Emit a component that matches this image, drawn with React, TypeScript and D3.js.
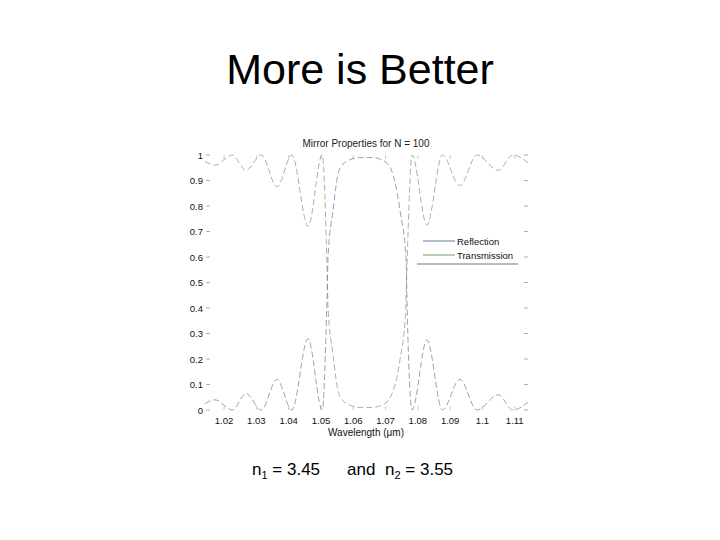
import React from "react";
import * as d3 from "d3";

const title = "More is Better";
const plotTitle = "Mirror Properties for N = 100";
const xLabel = "Wavelength (\u03bcm)";

const reflectionWl = [1.0141, 1.0172, 1.0225, 1.0268, 1.0315, 1.0364, 1.041, 1.046, 1.0504, 1.0519, 1.0522, 1.0537, 1.0556, 1.058, 1.062, 1.066, 1.069, 1.0715, 1.0745, 1.0764, 1.0766, 1.0782, 1.0828, 1.0876, 1.093, 1.0983, 1.1049, 1.1094, 1.1141];
const reflectionVals = [0.025, 0.04, 0.0, 0.065, 0.0, 0.12, 0.0, 0.28, 0.0, 0.45, 0.6, 0.78, 0.94, 0.975, 0.99, 0.99, 0.98, 0.95, 0.78, 0.58, 0.45, 0.0, 0.275, 0.0, 0.12, 0.0, 0.06, 0.0, 0.03];

const transmissionWl = [1.0141, 1.0172, 1.0225, 1.0268, 1.0315, 1.0364, 1.041, 1.046, 1.0504, 1.0519, 1.0522, 1.0537, 1.0556, 1.058, 1.062, 1.066, 1.069, 1.0715, 1.0745, 1.0762, 1.0766, 1.0782, 1.0828, 1.0876, 1.093, 1.0983, 1.1049, 1.1094, 1.1141];
const transmissionVals = [0.975, 0.96, 1.0, 0.94, 1.0, 0.875, 1.0, 0.72, 1.0, 0.55, 0.4, 0.22, 0.06, 0.025, 0.01, 0.01, 0.02, 0.05, 0.2, 0.38, 0.55, 1.0, 0.725, 1.0, 0.88, 1.0, 0.94, 1.0, 0.97];

const xTicks = [1.02, 1.03, 1.04, 1.05, 1.06, 1.07, 1.08, 1.09, 1.1, 1.11];
const xTickLabels = ["1.02", "1.03", "1.04", "1.05", "1.06", "1.07", "1.08", "1.09", "1.1", "1.11"];
const yTicks = [0, 0.1, 0.2, 0.3, 0.4, 0.5, 0.6, 0.7, 0.8, 0.9, 1];
const yTickLabels = ["0", "0.1", "0.2", "0.3", "0.4", "0.5", "0.6", "0.7", "0.8", "0.9", "1"];
const legendLabels = ["Reflection", "Transmission"];

const FONT = "'Liberation Sans', Arial, Helvetica, sans-serif";
const R_COLOR = "#6f76a6";
const T_COLOR = "#6fa06f";

export default function App() {
  const x = d3.scaleLinear().domain([1.0141, 1.1141]).range([205, 528]);
  const y = d3.scaleLinear().domain([0, 1]).range([410, 155]);
  const line = d3
    .line<[number, number]>()
    .x((d) => x(d[0]))
    .y((d) => y(d[1]))
    .curve(d3.curveMonotoneX);
  const rPts = reflectionWl.map((w, i) => [w, reflectionVals[i]] as [number, number]);
  const tPts = transmissionWl.map((w, i) => [w, transmissionVals[i]] as [number, number]);

  return (
    <svg
      width={720}
      height={540}
      style={{ position: "absolute", left: 0, top: 0, background: "#fff" }}
      fontFamily={FONT}
    >
      <rect width={720} height={540} fill="#fff" />
      <text x={360} y={84} textAnchor="middle" fontSize={43} fill="#000">
        {title}
      </text>
      <text x={366} y={147} textAnchor="middle" fontSize={10} fill="#222">
        {plotTitle}
      </text>

      {/* y ticks */}
      {yTicks.map((t, i) => (
        <g key={"y" + i}>
          <text x={203} y={y(t) + 3.5} textAnchor="end" fontSize={9.5} fill="#111">
            {yTickLabels[i]}
          </text>
          <line x1={206} x2={210} y1={y(t)} y2={y(t)} stroke="#999" strokeWidth={0.8} />
          <line x1={524} x2={528} y1={y(t)} y2={y(t)} stroke="#999" strokeWidth={0.8} />
        </g>
      ))}
      {/* x ticks */}
      {xTicks.map((t, i) => (
        <g key={"x" + i}>
          <text x={x(t)} y={424} textAnchor="middle" fontSize={9.5} fill="#111">
            {xTickLabels[i]}
          </text>
          <line x1={x(t)} x2={x(t)} y1={410} y2={406} stroke="#bbb" strokeWidth={0.8} />
          <line x1={x(t)} x2={x(t)} y1={155} y2={159} stroke="#bbb" strokeWidth={0.8} />
        </g>
      ))}
      <text x={366} y={436} textAnchor="middle" fontSize={10} fill="#111">
        {xLabel}
      </text>

      <path d={line(tPts) || ""} fill="none" stroke={T_COLOR} strokeWidth={1} strokeDasharray="6,3" opacity={0.7} />
      <path d={line(rPts) || ""} fill="none" stroke={R_COLOR} strokeWidth={1} strokeDasharray="6,3" opacity={0.7} />

      {/* legend */}
      <rect x={417} y={232} width={101} height={32} fill="#fff" />
      <line x1={423} x2={455} y1={241} y2={241} stroke={R_COLOR} strokeWidth={1} />
      <text x={457} y={245} fontSize={9.5} fill="#111">{legendLabels[0]}</text>
      <line x1={423} x2={455} y1={255} y2={255} stroke={T_COLOR} strokeWidth={1} />
      <text x={457} y={259} fontSize={9.5} fill="#111">{legendLabels[1]}</text>
      <line x1={417} x2={518} y1={264} y2={264} stroke="#777" strokeWidth={1} />

      {/* bottom caption */}
      <text x={252} y={475} fontSize={17} fill="#000">
        n<tspan fontSize={11} dy={4}>1</tspan>
        <tspan dy={-4}>{" = 3.45"}</tspan>
      </text>
      <text x={347} y={475} fontSize={17} fill="#000">and</text>
      <text x={385} y={475} fontSize={17} fill="#000">
        n<tspan fontSize={11} dy={4}>2</tspan>
        <tspan dy={-4}>{" = 3.55"}</tspan>
      </text>
    </svg>
  );
}
